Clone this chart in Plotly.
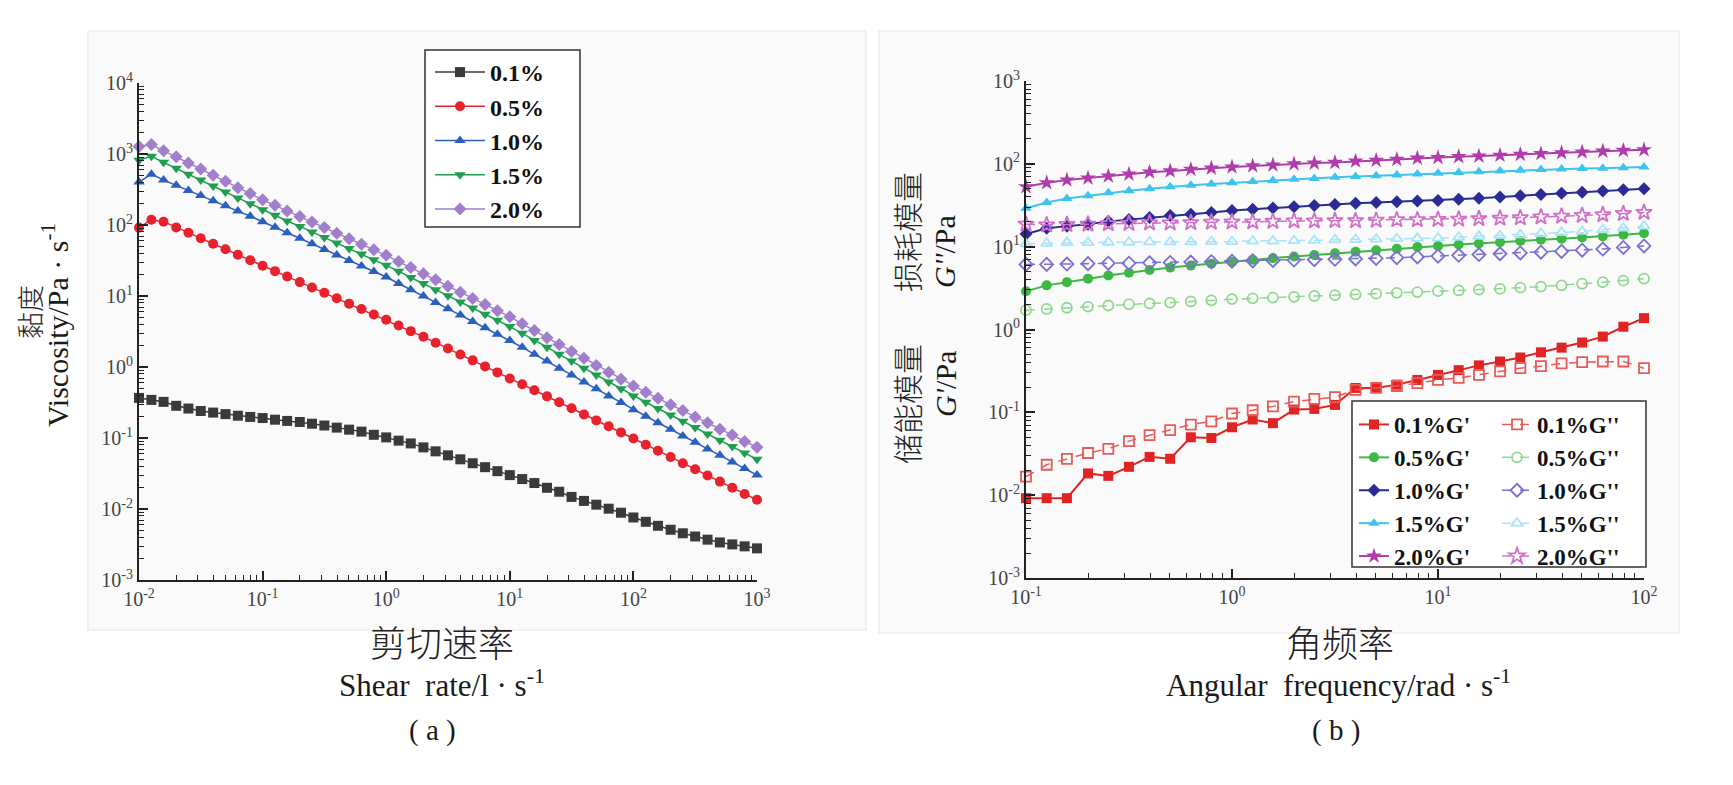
import plotly.graph_objects as go

W, H = 1733, 785
OFF = 8  # page body margin offset


def px(x):
    return (x - OFF) / W


def py(y):
    return 1 - (y - OFF) / H


# ---------------- (a) viscosity vs shear rate ----------------
shear_rate = [0.01, 0.0126, 0.0158, 0.02, 0.0251, 0.0316, 0.0398, 0.0501, 0.0631, 0.0794,
              0.1, 0.126, 0.158, 0.2, 0.251, 0.316, 0.398, 0.501, 0.631, 0.794,
              1, 1.26, 1.58, 2, 2.51, 3.16, 3.98, 5.01, 6.31, 7.94,
              10, 12.6, 15.8, 20, 25.1, 31.6, 39.8, 50.1, 63.1, 79.4,
              100, 126, 158, 200, 251, 316, 398, 501, 631, 794, 1000]

visc_01 = [0.367, 0.344, 0.323, 0.284, 0.260, 0.240, 0.228, 0.217, 0.206, 0.198,
           0.191, 0.181, 0.174, 0.168, 0.159, 0.150, 0.140, 0.131, 0.123, 0.111,
           0.102, 0.0918, 0.0839, 0.0738, 0.0649, 0.0570, 0.0501, 0.0441, 0.0388, 0.0341,
           0.0300, 0.0264, 0.0232, 0.0199, 0.0175, 0.0148, 0.0130, 0.0115, 0.0101, 0.00887,
           0.00760, 0.00660, 0.00580, 0.00510, 0.00455, 0.00410, 0.00370, 0.00338, 0.00317, 0.00298, 0.00279]

visc_05 = [91.9, 118.8, 111.4, 92.5, 77.8, 64.9, 54.3, 45.5, 38.1, 31.9,
           26.7, 22.4, 18.8, 15.7, 13.2, 11.1, 9.30, 7.80, 6.55, 5.50,
           4.62, 3.85, 3.20, 2.66, 2.20, 1.82, 1.50, 1.24, 1.02, 0.840,
           0.690, 0.570, 0.470, 0.386, 0.318, 0.262, 0.215, 0.177, 0.146, 0.120,
           0.0985, 0.0805, 0.0660, 0.0540, 0.0442, 0.0362, 0.0297, 0.0243, 0.0199, 0.0163, 0.0135]

visc_10 = [402, 520, 429, 363, 307, 260, 220, 186, 157, 133,
           111, 93.1, 77.8, 65.0, 54.3, 45.3, 37.9, 31.6, 26.4, 22.1,
           18.5, 15.0, 12.2, 9.96, 8.11, 6.61, 5.38, 4.38, 3.57, 2.90,
           2.36, 1.90, 1.51, 1.21, 0.962, 0.773, 0.614, 0.493, 0.392, 0.315,
           0.250, 0.203, 0.164, 0.133, 0.107, 0.0871, 0.0701, 0.0570, 0.0458, 0.0373, 0.0300]

visc_15 = [815, 927, 764, 631, 520, 429, 354, 292, 241, 199,
           164, 137, 114, 95.5, 79.8, 66.7, 55.7, 46.5, 38.9, 32.5,
           27.1, 22.4, 18.2, 15.0, 12.2, 10.1, 8.22, 6.78, 5.52, 4.55,
           3.71, 2.98, 2.36, 1.90, 1.51, 1.21, 0.962, 0.773, 0.614, 0.493,
           0.392, 0.319, 0.260, 0.211, 0.172, 0.140, 0.114, 0.0929, 0.0757, 0.0616, 0.0501]

visc_20 = [1279, 1362, 1109, 915, 745, 615, 500, 413, 336, 277,
           226, 189, 157, 132, 110, 91.9, 76.7, 64.1, 53.6, 44.8,
           37.4, 30.5, 25.1, 20.5, 16.9, 13.7, 11.3, 9.23, 7.61, 6.19,
           5.11, 4.06, 3.26, 2.59, 2.08, 1.65, 1.33, 1.05, 0.846, 0.671,
           0.540, 0.440, 0.362, 0.295, 0.244, 0.198, 0.164, 0.133, 0.110, 0.0894, 0.0738]

# ---------------- (b) G', G'' vs angular frequency ----------------
freq = [0.1, 0.126, 0.158, 0.2, 0.251, 0.316, 0.398, 0.501, 0.631, 0.794,
        1, 1.26, 1.58, 2, 2.51, 3.16, 3.98, 5.01, 6.31, 7.94,
        10, 12.6, 15.8, 20, 25.1, 31.6, 39.8, 50.1, 63.1, 79.4, 100]

gp_01 = [0.0092, 0.0092, 0.0092, 0.0183, 0.0171, 0.0220, 0.0290, 0.0275, 0.0500, 0.0490,
         0.0660, 0.0820, 0.0740, 0.108, 0.110, 0.123, 0.197, 0.197, 0.216, 0.246,
         0.283, 0.323, 0.369, 0.411, 0.459, 0.530, 0.604, 0.696, 0.821, 1.08, 1.37]
gpp_01 = [0.0167, 0.0233, 0.0274, 0.0323, 0.0363, 0.0449, 0.0530, 0.0610, 0.0712, 0.0776,
          0.0968, 0.106, 0.118, 0.135, 0.145, 0.153, 0.187, 0.197, 0.208, 0.225,
          0.246, 0.260, 0.283, 0.313, 0.341, 0.361, 0.389, 0.403, 0.411, 0.411, 0.341]

gp_05 = [2.90, 3.41, 3.73, 4.11, 4.49, 4.85, 5.24, 5.59, 5.91, 6.24,
         6.59, 6.96, 7.28, 7.60, 7.94, 8.30, 8.67, 9.06, 9.47, 9.89,
         10.2, 10.6, 10.9, 11.3, 11.7, 12.1, 12.5, 12.9, 13.3, 13.9, 14.5]
gpp_05 = [1.71, 1.77, 1.83, 1.89, 1.95, 2.02, 2.06, 2.11, 2.18, 2.25,
          2.33, 2.38, 2.43, 2.48, 2.54, 2.60, 2.65, 2.71, 2.77, 2.83,
          2.90, 2.96, 3.03, 3.09, 3.20, 3.30, 3.41, 3.57, 3.73, 3.89, 4.11]

gp_10 = [14.2, 16.7, 17.7, 18.7, 20.2, 21.3, 22.5, 23.8, 24.6, 25.9,
         27.4, 28.3, 29.3, 30.3, 31.3, 32.3, 33.4, 34.1, 34.9, 35.7,
         36.1, 37.3, 38.5, 39.8, 41.1, 42.5, 44.0, 45.4, 46.9, 48.5, 50.1]
gpp_10 = [6.11, 6.11, 6.17, 6.24, 6.31, 6.31, 6.38, 6.45, 6.52, 6.59,
          6.67, 6.74, 6.81, 6.89, 6.96, 7.04, 7.12, 7.20, 7.36, 7.52,
          7.69, 7.86, 8.03, 8.21, 8.39, 8.58, 8.77, 9.06, 9.36, 9.78, 10.2]

gp_15 = [29.0, 34.1, 38.1, 41.1, 44.9, 47.4, 50.1, 52.9, 55.3, 57.2,
         59.1, 61.1, 63.1, 65.2, 66.7, 68.9, 70.4, 71.9, 73.5, 75.2,
         76.8, 78.6, 80.3, 82.0, 83.9, 85.7, 86.7, 87.7, 88.6, 89.6, 91.6]
gpp_15 = [10.8, 11.0, 11.2, 11.2, 11.3, 11.3, 11.4, 11.4, 11.4, 11.5,
          11.5, 11.7, 11.7, 11.8, 11.9, 12.1, 12.2, 12.3, 12.5, 12.6,
          12.7, 13.0, 13.3, 13.6, 13.9, 14.4, 14.8, 15.3, 16.0, 16.7, 17.7]

gp_20 = [52.9, 59.1, 63.8, 67.4, 71.2, 75.2, 79.4, 82.0, 85.7, 88.6,
         91.6, 94.6, 96.8, 100, 102, 104, 108, 110, 113, 117,
         119, 122, 124, 127, 130, 133, 136, 139, 142, 145, 148]
gpp_20 = [18.7, 18.3, 18.5, 18.7, 18.9, 19.1, 19.3, 19.3, 19.5, 19.7,
          19.9, 19.9, 20.2, 20.4, 20.4, 20.6, 20.6, 20.8, 21.1, 21.1,
          21.3, 21.5, 21.8, 22.0, 22.3, 22.8, 23.3, 23.8, 24.3, 25.1, 25.9]

# tick labels
xa_tickvals = [0.01, 0.1, 1, 10, 100, 1000]
xa_ticktext = ["10<sup>-2</sup>", "10<sup>-1</sup>", "10<sup>0</sup>", "10<sup>1</sup>", "10<sup>2</sup>", "10<sup>3</sup>"]
ya_tickvals = [0.001, 0.01, 0.1, 1, 10, 100, 1000, 10000]
ya_ticktext = ["10<sup>-3</sup>", "10<sup>-2</sup>", "10<sup>-1</sup>", "10<sup>0</sup>", "10<sup>1</sup>",
               "10<sup>2</sup>", "10<sup>3</sup>", "10<sup>4</sup>"]
xb_tickvals = [0.1, 1, 10, 100]
xb_ticktext = ["10<sup>-1</sup>", "10<sup>0</sup>", "10<sup>1</sup>", "10<sup>2</sup>"]
yb_tickvals = [0.001, 0.01, 0.1, 1, 10, 100, 1000]
yb_ticktext = ["10<sup>-3</sup>", "10<sup>-2</sup>", "10<sup>-1</sup>", "10<sup>0</sup>", "10<sup>1</sup>",
               "10<sup>2</sup>", "10<sup>3</sup>"]

SERIF = "Liberation Serif, Times New Roman, serif"
CJK = "Noto Sans CJK SC"

fig = go.Figure()

left_series = [
    ("0.1%", visc_01, "#3a3a3a", "square"),
    ("0.5%", visc_05, "#e8222c", "circle"),
    ("1.0%", visc_10, "#2a5fbf", "triangle-up"),
    ("1.5%", visc_15, "#1f9e50", "triangle-down"),
    ("2.0%", visc_20, "#a27fcc", "diamond"),
]
for name, vals, color, sym in left_series:
    fig.add_trace(go.Scatter(
        x=shear_rate, y=vals, mode="lines+markers", name=name,
        line=dict(color=color, width=1.5),
        marker=dict(symbol=sym, size=10, color=color),
        xaxis="x", yaxis="y", legend="legend", cliponaxis=False))

right_series = [
    ("0.1%", gp_01, gpp_01, "#e02424", "#e85a5a", "square"),
    ("0.5%", gp_05, gpp_05, "#3cb843", "#8fd98f", "circle"),
    ("1.0%", gp_10, gpp_10, "#2b2b96", "#7b6fd0", "diamond"),
    ("1.5%", gp_15, gpp_15, "#3ec3ee", "#a9e3f7", "triangle-up"),
    ("2.0%", gp_20, gpp_20, "#b03cac", "#d270c8", "star"),
]
for name, gp, gpp, c1, c2, sym in right_series:
    msize = 12 if sym == "star" else 10
    fig.add_trace(go.Scatter(
        x=freq, y=gp, mode="lines+markers", name=name + "G'",
        line=dict(color=c1, width=2),
        marker=dict(symbol=sym, size=msize, color=c1),
        xaxis="x2", yaxis="y2", legend="legend2", cliponaxis=False))
for name, gp, gpp, c1, c2, sym in right_series:
    msize = 12 if sym == "star" else 10
    fig.add_trace(go.Scatter(
        x=freq, y=gpp, mode="lines+markers", name=name + "G''",
        line=dict(color=c2, width=1.5, dash="dash"),
        marker=dict(symbol=sym + "-open", size=msize, color=c2, line=dict(color=c2, width=1.8)),
        xaxis="x2", yaxis="y2", legend="legend3", cliponaxis=False))

axis_common = dict(
    type="log", showgrid=False, zeroline=False, automargin=False,
    showline=True, linecolor="#222", linewidth=2,
    ticks="inside", ticklen=9, tickwidth=1.5, tickcolor="#222",
    tickmode="array",
    tickfont=dict(family=SERIF, size=20, color="#444"),
    minor=dict(ticks="inside", ticklen=5, tickwidth=1.2, tickcolor="#222", dtick="D1", showgrid=False),
)

fig.update_layout(
    width=W, height=H,
    margin=dict(l=0, r=0, t=0, b=0, autoexpand=False),
    paper_bgcolor="white", plot_bgcolor="rgba(0,0,0,0)",
    showlegend=True,
    xaxis=dict(axis_common, domain=[px(139), px(757)], range=[-2, 3], anchor="y",
               tickvals=xa_tickvals, ticktext=xa_ticktext),
    yaxis=dict(axis_common, domain=[py(580), py(83)], range=[-3, 4], anchor="x",
               tickvals=ya_tickvals, ticktext=ya_ticktext),
    xaxis2=dict(axis_common, domain=[px(1026), px(1644)], range=[-1, 2], anchor="y2",
                tickvals=xb_tickvals, ticktext=xb_ticktext),
    yaxis2=dict(axis_common, domain=[py(578), py(81)], range=[-3, 3], anchor="x2",
                tickvals=yb_tickvals, ticktext=yb_ticktext),
    legend=dict(x=px(430), y=py(50), xanchor="left", yanchor="top",
                bgcolor="rgba(0,0,0,0)", borderwidth=0,
                itemwidth=50,
                font=dict(family=SERIF, size=24, color="#111", weight="bold"),
                tracegroupgap=0),
    legend2=dict(x=px(1354), y=py(403), xanchor="left", yanchor="top",
                 bgcolor="rgba(0,0,0,0)", borderwidth=0,
                 font=dict(family=SERIF, size=23, color="#111", weight="bold"),
                 tracegroupgap=0),
    legend3=dict(x=px(1497), y=py(403), xanchor="left", yanchor="top",
                 bgcolor="rgba(0,0,0,0)", borderwidth=0,
                 font=dict(family=SERIF, size=23, color="#111", weight="bold"),
                 tracegroupgap=0),
)

# panel backgrounds and legend frames
fig.add_shape(type="rect", xref="paper", yref="paper", x0=px(88), x1=px(866), y0=py(630), y1=py(31),
              fillcolor="#fafafa", line=dict(color="#ededed", width=1.5), layer="below")
fig.add_shape(type="rect", xref="paper", yref="paper", x0=px(879), x1=px(1679), y0=py(633), y1=py(31),
              fillcolor="#fafafa", line=dict(color="#ededed", width=1.5), layer="below")
fig.add_shape(type="rect", xref="paper", yref="paper", x0=px(425), x1=px(580), y0=py(227), y1=py(50),
              fillcolor="white", line=dict(color="#333", width=1.5), layer="above")
fig.add_shape(type="rect", xref="paper", yref="paper", x0=px(1352), x1=px(1646), y0=py(567), y1=py(401),
              fillcolor="white", line=dict(color="#333", width=1.5), layer="above")

annotations = [
    ("黏度", 29, 312, CJK, 27, -90),
    ("Viscosity/Pa · s<sup>-1</sup>", 55, 325, SERIF, 30, -90),
    ("剪切速率", 442, 641, CJK, 36, 0),
    ("Shear  rate/l · s<sup>-1</sup>", 442, 683, SERIF, 31, 0),
    ("( a )", 432, 730, SERIF, 29, 0),
    ("角频率", 1340, 641, CJK, 36, 0),
    ("Angular  frequency/rad · s<sup>-1</sup>", 1338, 683, SERIF, 31, 0),
    ("( b )", 1336, 730, SERIF, 29, 0),
    ("储能模量", 906, 404, CJK, 30, -90),
    ("损耗模量", 906, 232, CJK, 30, -90),
    ("<i>G'</i>/Pa", 945, 384, SERIF, 30, -90),
    ("<i>G''</i>/Pa", 945, 252, SERIF, 30, -90),
]
for text, x, y, fam, size, ang in annotations:
    fig.add_annotation(text=text, x=px(x), y=py(y), xref="paper", yref="paper",
                       showarrow=False, textangle=ang, xanchor="center", yanchor="middle",
                       font=dict(family=fam, size=size, color="#222" if fam == CJK else "#1a1a1a",
                                 weight=300 if fam == CJK else "normal"))

fig.write_html("out.html")
